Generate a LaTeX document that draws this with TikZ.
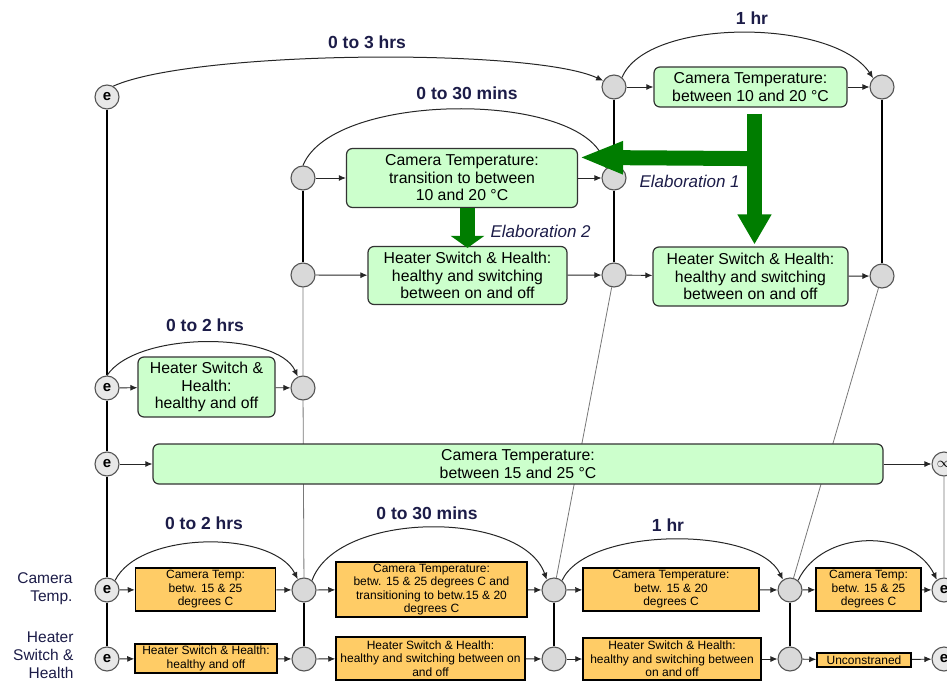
\documentclass[tikz,border=0pt]{standalone}
\usepackage{fontspec}
\setmainfont{Liberation Sans}
\usetikzlibrary{arrows.meta,calc,backgrounds}
\definecolor{gbox}{RGB}{204,255,204}
\definecolor{obox}{RGB}{255,204,102}
\definecolor{cgray}{RGB}{217,217,217}
\definecolor{cedge}{RGB}{85,85,85}
\definecolor{navy}{RGB}{28,28,72}
\definecolor{elabgreen}{RGB}{0,125,0}
\definecolor{lgray}{RGB}{120,120,120}
\begin{document}
\begin{tikzpicture}[x=1pt,y=-1pt,
  circ/.style={circle,draw=cedge,fill=cgray,line width=1.1pt,minimum size=24pt,inner sep=0pt},
  ecirc/.style={circ,fill=cgray!60,font=\fontsize{15}{15}\selectfont\bfseries},
  gbx/.style={draw=black!80,fill=gbox,line width=1.2pt,rounded corners=6pt,inner sep=0pt,align=center,font=\fontsize{15.8}{17.5}\selectfont},
  obx/.style={draw=black,fill=obox,line width=1.5pt,inner sep=0pt,align=center,font=\fontsize{12}{13.5}\selectfont},
  lbl/.style={font=\fontsize{17.5}{18}\selectfont\bfseries,text=navy},
  sidelbl/.style={font=\fontsize{15.5}{18}\selectfont,text=navy,align=right,anchor=east},
  elab/.style={font=\fontsize{17}{18}\selectfont\itshape,text=navy,anchor=west},
  conn/.style={draw=black!85,line width=0.9pt,-{Latex[length=7pt,width=6pt]}},
  tarc/.style={draw=black!85,line width=1pt,-{Latex[length=7pt,width=6pt]}},
  vline/.style={draw=black,line width=1.2pt},
  gline/.style={draw=lgray,line width=0.8pt},
  garrow/.style={draw=elabgreen,line width=15pt}
]
\path[use as bounding box] (0,0) rectangle (947,682);
\clip (0,0) rectangle (947,682);

% event / time-point circles
\node[ecirc] (e1) at (107,97) {e};
\node[ecirc] (e2) at (107,388) {e};
\node[ecirc] (e3) at (107,464) {e};
\node[ecirc] (e4) at (107,590) {e};
\node[ecirc] (e5) at (107,659) {e};

\node[circ] (g1) at (614,87) {};
\node[circ] (g2) at (882,87) {};
\node[circ] (g3) at (303,178) {};
\node[circ] (g4) at (614,178) {};
\node[circ] (g5) at (303,275) {};
\node[circ] (g6) at (614,275) {};
\node[circ] (g7) at (882,276) {};
\node[circ] (g8) at (303,388) {};
\node[ecirc] (inf) at (944,464) {$\infty$};
\node[circ] (b1) at (304,590) {};
\node[circ] (b2) at (554,590) {};
\node[circ] (b3) at (790,590) {};
\node[ecirc] (r1) at (944,590) {e};
\node[circ] (h1) at (304,659) {};
\node[circ] (h2) at (554,659) {};
\node[circ] (h3) at (790,659) {};
\node[ecirc] (r2) at (944,659) {e};

% green boxes
\node[gbx,minimum width=193pt,minimum height=40pt] (tc) at (750.5,87) {Camera Temperature:\\between 10 and 20 °C};
\node[gbx,minimum width=231pt,minimum height=59pt] (tr) at (462,178) {Camera Temperature:\\transition to between\\10 and 20 °C};
\node[gbx,minimum width=199pt,minimum height=58pt] (hs) at (467.5,275.5) {Heater Switch \& Health:\\healthy and switching\\between on and off};
\node[gbx,minimum width=195pt,minimum height=59pt] (hr) at (750.5,276.5) {Heater Switch \& Health:\\healthy and switching\\between on and off};
\node[gbx,minimum width=137pt,minimum height=60pt] (ho) at (206.5,387) {Heater Switch \&\\Health:\\healthy and off};
\node[gbx,minimum width=730pt,minimum height=40pt] (big) at (518,464) {Camera Temperature:\\between 15 and 25 °C};

% orange boxes
\node[obx,minimum width=140pt,minimum height=43pt] (o1) at (205.5,589.5) {Camera Temp:\\betw. 15 \& 25\\degrees C};
\node[obx,minimum width=191pt,minimum height=55pt] (o2) at (431.5,589.5) {Camera Temperature:\\betw. 15 \& 25 degrees C and\\transitioning to betw.15 \& 20\\degrees C};
\node[obx,minimum width=176pt,minimum height=43pt] (o3) at (671,589.5) {Camera Temperature:\\betw. 15 \& 20\\degrees C};
\node[obx,minimum width=105pt,minimum height=43pt] (o4) at (868.5,589.5) {Camera Temp:\\betw. 15 \& 25\\degrees C};
\node[obx,minimum width=142pt,minimum height=29pt] (p1) at (206,658.5) {Heater Switch \& Health:\\healthy and off};
\node[obx,minimum width=189pt,minimum height=43pt] (p2) at (430.5,658.5) {Heater Switch \& Health:\\healthy and switching between on\\and off};
\node[obx,minimum width=178pt,minimum height=42pt] (p3) at (672,659) {Heater Switch \& Health:\\healthy and switching between\\on and off};
\node[obx,minimum width=94pt,minimum height=14pt] (p4) at (864,660) {Unconstraned};

% side labels
\node[sidelbl] (lc) at (76,589) {Camera\\Temp.};
\node[sidelbl] (lh) at (77,655) {Heater\\Switch \&\\Health};

% constraint labels
\node[lbl] (l1) at (367,42) {0 to 3 hrs};
\node[lbl] (l2) at (752,18) {1 hr};
\node[lbl] (l3) at (467,93) {0 to 30 mins};
\node[lbl] (l4) at (205,325) {0 to 2 hrs};
\node[lbl] (l5) at (204,523) {0 to 2 hrs};
\node[lbl] (l6) at (427,513) {0 to 30 mins};
\node[lbl] (l7) at (668,525) {1 hr};
\node[elab] (el1) at (636,181) {Elaboration 1};
\node[elab] (el2) at (487,231) {Elaboration 2};

% lines behind
\begin{scope}[on background layer]
\draw[vline] (e1)--(e2) (e2)--(e3) (e3)--(e4) (e4)--(e5);
\draw[vline] (g1)--(g4) (g4)--(g6);
\draw[vline] (g2)--(g7);
\draw[vline] (g3)--(g5);
\draw[gline] (g5)--(g8) (g8)--(b1) (g6)--(b2) (g7)--(b3) (inf)--(r1);
\draw[vline] (b1)--(h1) (b2)--(h2) (b3)--(h3);
\end{scope}

% horizontal connectors
\draw[conn] (g1)--(tc);
\draw[conn] (tc)--(g2);
\draw[conn] (g3)--(tr);
\draw[conn] (tr)--(g4);
\draw[conn] (g5)--(hs);
\draw[conn] (hs)--(g6);
\draw[conn] (g6)--(hr);
\draw[conn] (hr)--(g7);
\draw[conn] (e2)--(ho);
\draw[conn] (ho)--(g8);
\draw[conn] (e3)--(big);
\draw[conn] (big)--(inf);
\draw[conn] (e4)--(o1);
\draw[conn] (o1)--(b1);
\draw[conn] (b1)--(o2);
\draw[conn] (o2)--(b2);
\draw[conn] (b2)--(o3);
\draw[conn] (o3)--(b3);
\draw[conn] (b3)--(o4);
\draw[conn] (o4)--(r1);
\draw[conn] (e5)--(p1);
\draw[conn] (p1)--(h1);
\draw[conn] (h1)--(p2);
\draw[conn] (p2)--(h2);
\draw[conn] (h2)--(p3);
\draw[conn] (p3)--(h3);
\draw[conn] (h3)--(p4);
\draw[conn] (p4)--(r2);

% arcs
\draw[tarc] (e1.60) .. controls +(80,-36) and +(-70,-33) .. (g1.150);
\draw[tarc] (g1.50) .. controls +(25,-60) and +(-40,-60) .. (g2.135);
\draw[tarc] (g3.north) .. controls +(30,-75) and +(-20,-78) .. (g4.130);
\draw[tarc] (e2.north) .. controls +(30,-45) and +(-20,-45) .. (g8.115);
\draw[tarc] (e4.50) .. controls +(25,-50) and +(-25,-49) .. (b1.120);
\draw[tarc] (b1.50) .. controls +(25,-70) and +(-25,-70) .. (b2.125);
\draw[tarc] (b2.50) .. controls +(25,-54) and +(-25,-54) .. (b3.125);
\draw[tarc] (b3.50) .. controls +(25,-52) and +(-25,-51) .. (r1.125);

% elaboration arrows
\draw[garrow,-{Triangle[length=30pt,width=32pt]}] ($(tc.south)+(4,6)$) -- ($(hr.north)+(4,-2)$);
\draw[garrow,-{Triangle[length=44pt,width=30pt]}] ($(tc.south)+(4,51)$) -- ($(tr.north east)+(1,9.5)$);
\draw[garrow,-{Triangle[length=12pt,width=33pt]}] ($(tr.south)+(5.5,0)$) -- ($(hs.north)+(0,2)$);
\end{tikzpicture}
\end{document}
